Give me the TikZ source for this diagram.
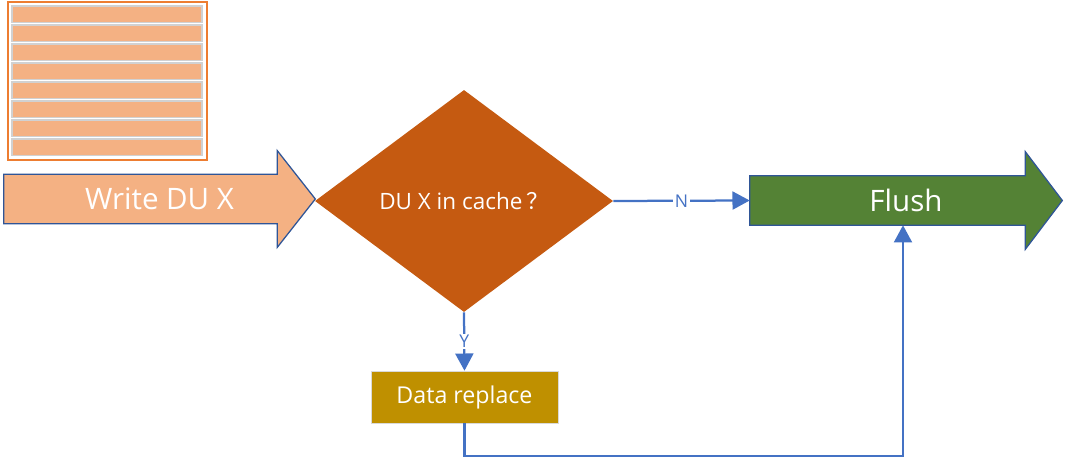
\documentclass[tikz,border=0pt]{standalone}
\usepackage{fontspec}
\setmainfont{Open Sans}
\newfontfamily\cjk{Noto Sans CJK SC}
\usepackage{xcolor}
\usepackage{tikz}
\usetikzlibrary{shapes.geometric,positioning,calc,arrows.meta,backgrounds}
\definecolor{peach}{HTML}{F4B183}
\definecolor{peachedge}{HTML}{ED7D31}
\definecolor{rust}{HTML}{C55A11}
\definecolor{leaf}{HTML}{548235}
\definecolor{gold}{HTML}{BF9000}
\definecolor{navy}{HTML}{2F5597}
\definecolor{wire}{HTML}{4472C4}
\tikzset{
  bigarrow/.style = {rectangle, text=white, inner sep=0pt, minimum height=1.225cm,
                     font=\fontsize{21}{24}\selectfont},
  arrowskin/.style= {draw=navy, line width=0.9pt, line join=miter},
  decision/.style = {diamond, fill=rust, text=white, inner sep=0pt,
                     minimum width=7.45cm, minimum height=5.55cm,
                     font=\fontsize{16}{18}\selectfont},
  task/.style     = {rectangle, fill=gold, draw=black!15, text=white,
                     minimum width=4.675cm, minimum height=1.3cm,
                     font=\fontsize{16.5}{19}\selectfont},
  flowline/.style = {line width=1.6pt, wire, -{Triangle[length=0.43cm, width=0.45cm]}},
  edgelabel/.style= {fill=white, text=wire, inner sep=1pt, font=\fontsize{12.5}{14}\selectfont},
  stackframe/.style = {draw=peachedge, line width=1.5pt, fill=white},
  stackbar/.style   = {draw=black!18, line width=0.8pt, fill=peach},
}
\begin{document}
\begin{tikzpicture}[x=0.025cm, y=-0.025cm]
\useasboundingbox (0,0) rectangle (1065,459);
% Cache stack in the top left corner
\draw[stackframe] (8,2) rectangle (207,160);
\foreach \i in {0,...,7}
  \draw[stackbar] (12,{6+19*\i}) rectangle (202,{22.5+19*\i});
% Main flow
\node[bigarrow, minimum width=7.775cm] (write) at (159.5,199) {Write DU X};
\node[decision] (ask) at (464,201) {DU X in cache\,{\cjk ？}};
\node[bigarrow, minimum width=7.8cm] (flush) at (906,200.5) {Flush};
\node[task] (replace) at (464.5,397) {Data replace};
% Arrow outlines behind the two block arrows
\begin{pgfonlayer}{background}
\draw[arrowskin, fill=peach] (write.north west) -- ($(write.north east)+(-38,0)$)
  -- ++(0,-23.5) -- (write.east) -- ($(write.south east)+(-38,23.5)$)
  -- ++(0,-23.5) -- (write.south west) -- cycle;
\draw[arrowskin, fill=leaf] (flush.north west) -- ($(flush.north east)+(-37,0)$)
  -- ++(0,-24) -- (flush.east) -- ($(flush.south east)+(-37,24)$)
  -- ++(0,-24) -- (flush.south west) -- cycle;
\end{pgfonlayer}
% Connectors
\draw[flowline] (ask.east) -- node[edgelabel] {N} (flush.west);
\draw[flowline] (ask.south) -- node[edgelabel] {Y} (replace.north);
\draw[flowline] (replace.south) -- ++(0,33) -| ($(flush.south)+(-3,0)$);
\end{tikzpicture}
\end{document}
